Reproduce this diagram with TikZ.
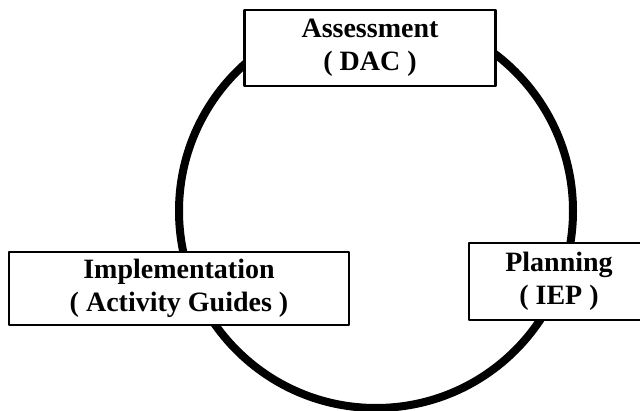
\documentclass[tikz,border=0pt]{standalone}
\usepackage{fontspec}
\setmainfont{Liberation Serif}
\begin{document}
\begin{tikzpicture}[x=1pt, y=1pt, font=\fontsize{28}{33}\selectfont\bfseries, line cap=round, line join=round,
  box/.style={draw, line width=2.5pt, fill=white, align=center, inner sep=0pt}]
\useasboundingbox (0,0) rectangle (640,410);
\def\r{197}
\path (376,199)coordinate(O);
\draw[line width=8pt] (O)circle(\r pt);
\node[box, minimum width=251pt, minimum height=76pt] (assess) at (370,362) {Assessment\\( DAC )};
\node[box, minimum width=340pt, minimum height=73pt] (impl) at (179,121.5) {Implementation\\( Activity Guides )};
\node[box, minimum width=180pt, minimum height=77pt] (plan) at (559,128.5) {Planning\\( IEP )};
\end{tikzpicture}
\end{document}
